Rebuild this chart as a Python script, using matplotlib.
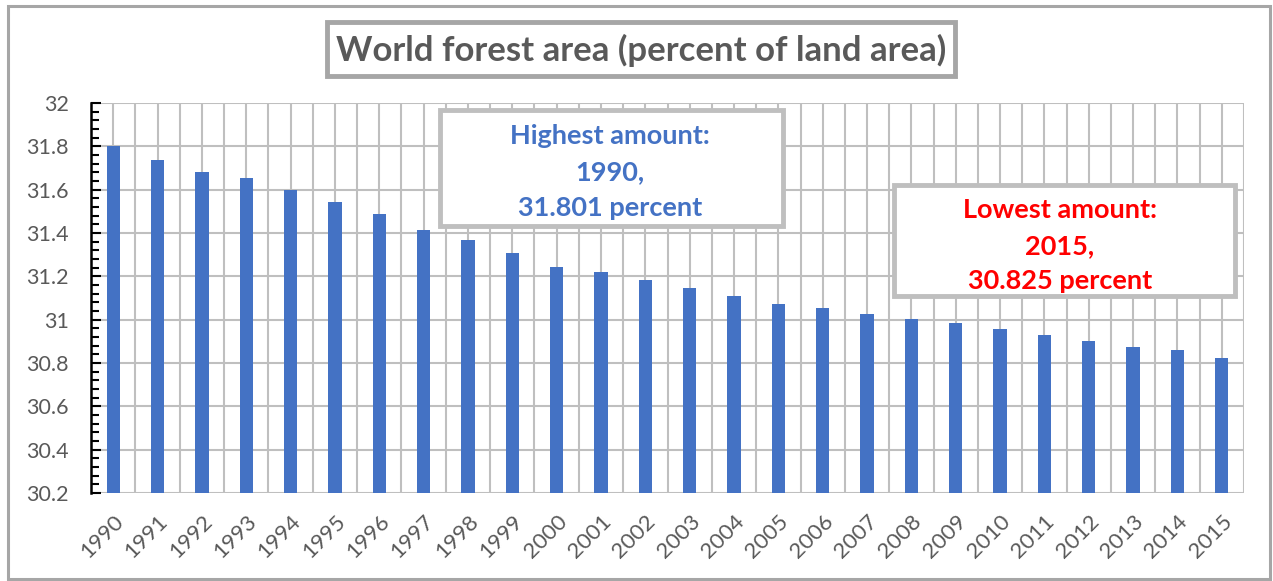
import numpy as np
import matplotlib
matplotlib.use("Agg")
import matplotlib.pyplot as plt
from matplotlib.patches import Rectangle
from matplotlib.ticker import MultipleLocator

# forest area, percent of land area
years = list(range(1990, 2016))
values = [31.801, 31.739, 31.683, 31.656, 31.598, 31.545, 31.488, 31.416,
          31.368, 31.307, 31.245, 31.220, 31.183, 31.146, 31.110, 31.073,
          31.055, 31.027, 31.003, 30.984, 30.957, 30.929, 30.902, 30.874,
          30.858, 30.825]
title = "World forest area (percent of land area)"

W, H = 1273, 581
plt.rcParams['font.family'] = ['Lato', 'DejaVu Sans']

fig = plt.figure(figsize=(W / 100, H / 100), dpi=100)
fig.patch.set_facecolor('white')


def px_box(x0, y0, x1, y1):
    # pixel box (top-left origin) -> figure fractions
    return x0 / W, 1 - y1 / H, (x1 - x0) / W, (y1 - y0) / H


ax = fig.add_axes(px_box(91, 103, 1244, 493))

x = np.arange(len(years))
ax.bar(x, values, width=0.3, bottom=0, color='#4472C4', zorder=3)

ax.set_xlim(-0.5, len(years) - 0.5)
ax.set_ylim(30.2, 32)

# grid lines: every 0.2 horizontally, every half category vertically
ax.yaxis.set_major_locator(MultipleLocator(0.2))
ax.yaxis.set_minor_locator(MultipleLocator(0.04))
for v in np.arange(30.2, 32.01, 0.2):
    ax.axhline(v, color='#BFBFBF', lw=1.5, zorder=1)
for k in np.arange(-0.5, len(years), 0.5):
    ax.axvline(k, color='#BFBFBF', lw=1.5, zorder=1)

ax.set_yticklabels([f"{v:g}" for v in np.round(ax.get_yticks(), 1)])
ax.set_xticks(x)
ax.set_xticklabels([str(y) for y in years], rotation=45, ha='right',
                   rotation_mode='anchor')

for s in ['top', 'right', 'bottom']:
    ax.spines[s].set_visible(False)
ax.spines['left'].set_color('black')
ax.spines['left'].set_linewidth(1.8)
ax.spines['left'].set_zorder(4)

ax.tick_params(axis='y', which='major', direction='in', length=7, width=1.5,
               pad=16, labelsize=15.5, labelcolor='#595959', color='black')
ax.tick_params(axis='y', which='minor', direction='in', length=5.5, width=1.5,
               color='black')
ax.tick_params(axis='x', length=0, pad=13, labelsize=16, labelcolor='#595959')

# outer frame
fig.add_artist(Rectangle(px_box(8, 6, 1270, 579)[:2], *px_box(8, 6, 1270, 579)[2:],
                         transform=fig.transFigure, fill=False,
                         edgecolor='#A6A6A6', lw=2.2, zorder=0))


def text_box(x0, y0, x1, y1, edge):
    b = px_box(x0, y0, x1, y1)
    fig.add_artist(Rectangle(b[:2], b[2], b[3], transform=fig.transFigure,
                             facecolor='white', edgecolor=edge, lw=3.5,
                             zorder=5))


# title
text_box(327, 22, 955, 76, '#A6A6A6')
fig.text(641 / W, 1 - 50 / H, title, ha='center', va='center',
         fontsize=25, fontweight='bold', color='#595959', zorder=6)

# highest / lowest callouts
imax = int(np.argmax(values))
imin = int(np.argmin(values))

text_box(439.5, 109.5, 782.5, 225.5, '#BFBFBF')
hi_lines = ["Highest amount:", f"{years[imax]},", f"{values[imax]:.3f} percent"]
for line, yy in zip(hi_lines, [136, 172, 208]):
    fig.text(610 / W, 1 - yy / H, line, ha='center', va='center',
             fontsize=19.5, fontweight='bold', color='#4472C4', zorder=6)

text_box(894.5, 184.5, 1234.5, 295.5, '#BFBFBF')
lo_lines = ["Lowest amount:", f"{years[imin]},", f"{values[imin]:.3f} percent"]
for line, yy in zip(lo_lines, [210, 246, 281]):
    fig.text(1060 / W, 1 - yy / H, line, ha='center', va='center',
             fontsize=19.5, fontweight='bold', color='#FF0000', zorder=6)

fig.savefig('out.png', dpi=100)
